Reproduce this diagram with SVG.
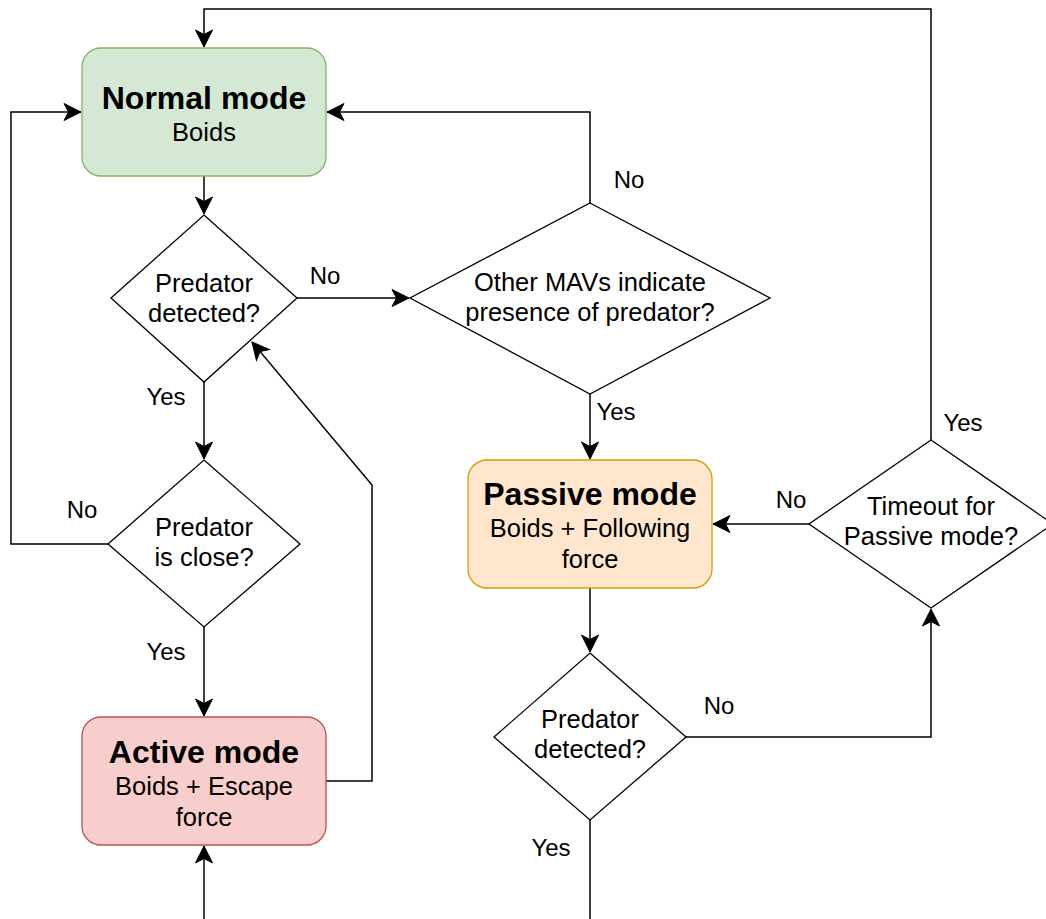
<svg xmlns="http://www.w3.org/2000/svg" width="1046" height="919" viewBox="0 0 1046 919">
<style>
  text { font-family: "Liberation Sans", Arial, sans-serif; fill: #000; text-anchor: middle; }
  .t { font-size: 25.5px; }
  .b { font-size: 32px; font-weight: bold; }
  .lbl { font-size: 24px; }
  .dia { fill: #fff; stroke: #000; stroke-width: 1.3; }
  .edge { fill: none; stroke: #000; stroke-width: 1.5; marker-end: url(#arr); }
  .plain { fill: none; stroke: #000; stroke-width: 1.5; }
</style>
<defs>
  <marker id="arr" markerUnits="userSpaceOnUse" viewBox="-20 -10 22 20" refX="0" refY="0" markerWidth="22" markerHeight="20" orient="auto" overflow="visible">
    <path d="M0,0 L-17,-8.5 L-12.5,0 L-17,8.5 Z" fill="#000" stroke="#000" stroke-width="1"/>
  </marker>
</defs>
<rect width="1046" height="919" fill="#fff"/>

<g id="connectors">
  <polyline class="edge" points="931,440 931,9 204,9 204,47"/>
  <line class="edge" x1="204" y1="176" x2="204" y2="214"/>
  <line class="edge" x1="297" y1="298" x2="409" y2="298"/>
  <polyline class="edge" points="590,203 590,112 327,112"/>
  <line class="edge" x1="590" y1="394" x2="590" y2="459"/>
  <line class="edge" x1="204" y1="382" x2="204" y2="459"/>
  <polyline class="edge" points="108,544 11,544 11,112 81,112"/>
  <line class="edge" x1="204" y1="627" x2="204" y2="716"/>
  <polyline class="edge" points="326,781 372,781 372,485 252,342"/>
  <line class="edge" x1="204" y1="919" x2="204" y2="846"/>
  <line class="edge" x1="590" y1="588" x2="590" y2="652"/>
  <polyline class="edge" points="686,737 931,737 931,609"/>
  <line class="edge" x1="809" y1="524" x2="713" y2="524"/>
  <line class="plain" x1="590" y1="820" x2="590" y2="919"/>
  <text class="lbl" x="325" y="284">No</text>
  <text class="lbl" x="166" y="405">Yes</text>
  <text class="lbl" x="82" y="518">No</text>
  <text class="lbl" x="166" y="660">Yes</text>
  <text class="lbl" x="629" y="188">No</text>
  <text class="lbl" x="616" y="420">Yes</text>
  <text class="lbl" x="791" y="508">No</text>
  <text class="lbl" x="963" y="431">Yes</text>
  <text class="lbl" x="719" y="714">No</text>
  <text class="lbl" x="551" y="856">Yes</text>
</g>

<g id="normal-mode">
  <rect x="82" y="48" width="244" height="128" rx="19" fill="#d5e8d4" stroke="#82b366" stroke-width="1.3"/>
  <text class="b" x="204" y="109">Normal mode</text>
  <text class="t" x="204" y="141">Boids</text>
</g>

<g id="predator-detected-1">
  <polygon class="dia" points="204,215 297,298 204,382 111,298"/>
  <text class="t" x="204" y="292">Predator</text>
  <text class="t" x="204" y="322">detected?</text>
</g>

<g id="other-mavs">
  <polygon class="dia" points="590,203 770,298 590,394 410,298"/>
  <text class="t" x="590" y="291">Other MAVs indicate</text>
  <text class="t" x="590" y="321">presence of predator?</text>
</g>

<g id="predator-close">
  <polygon class="dia" points="204,460 300,544 204,627 108,544"/>
  <text class="t" x="204" y="536">Predator</text>
  <text class="t" x="204" y="566">is close?</text>
</g>

<g id="active-mode">
  <rect x="82" y="717" width="244" height="128" rx="19" fill="#f8cecc" stroke="#b85450" stroke-width="1.3"/>
  <text class="b" x="204" y="763">Active mode</text>
  <text class="t" x="204" y="795">Boids + Escape</text>
  <text class="t" x="204" y="826">force</text>
</g>

<g id="passive-mode">
  <rect x="468" y="460" width="244" height="128" rx="19" fill="#ffe6cc" stroke="#d79b00" stroke-width="1.3"/>
  <text class="b" x="590" y="505">Passive mode</text>
  <text class="t" x="590" y="537">Boids + Following</text>
  <text class="t" x="590" y="568">force</text>
</g>

<g id="timeout">
  <polygon class="dia" points="931,440 1053,524 931,608 809,524"/>
  <text class="t" x="931" y="515">Timeout for</text>
  <text class="t" x="931" y="545">Passive mode?</text>
</g>

<g id="predator-detected-2">
  <polygon class="dia" points="590,653 686,737 590,820 494,737"/>
  <text class="t" x="590" y="728">Predator</text>
  <text class="t" x="590" y="758">detected?</text>
</g>
</svg>
